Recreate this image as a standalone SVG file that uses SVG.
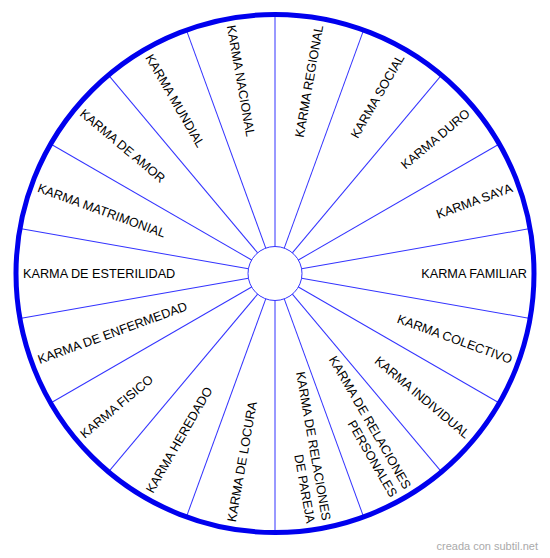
<svg xmlns="http://www.w3.org/2000/svg" width="550" height="558" viewBox="0 0 550 558">
<style>
.spoke{stroke:#3333ff;stroke-width:1}
.lbl{font-family:"Liberation Sans",Arial,sans-serif;font-size:12.7px;fill:#000}
.r{text-anchor:end}
.l{text-anchor:start}
.wm{font-family:"Liberation Sans",Arial,sans-serif;font-size:11px;fill:#aaaaaa;text-anchor:end}
</style>
<rect width="550" height="558" fill="#ffffff"/>
<g id="connectors" transform="translate(275,273.5)">
<line class="spoke" x1="0" y1="-27" x2="0" y2="-259" transform="rotate(0)"/>
<line class="spoke" x1="0" y1="-27" x2="0" y2="-259" transform="rotate(20)"/>
<line class="spoke" x1="0" y1="-27" x2="0" y2="-259" transform="rotate(40)"/>
<line class="spoke" x1="0" y1="-27" x2="0" y2="-259" transform="rotate(60)"/>
<line class="spoke" x1="0" y1="-27" x2="0" y2="-259" transform="rotate(80)"/>
<line class="spoke" x1="0" y1="-27" x2="0" y2="-259" transform="rotate(100)"/>
<line class="spoke" x1="0" y1="-27" x2="0" y2="-259" transform="rotate(120)"/>
<line class="spoke" x1="0" y1="-27" x2="0" y2="-259" transform="rotate(140)"/>
<line class="spoke" x1="0" y1="-27" x2="0" y2="-259" transform="rotate(160)"/>
<line class="spoke" x1="0" y1="-27" x2="0" y2="-259" transform="rotate(180)"/>
<line class="spoke" x1="0" y1="-27" x2="0" y2="-259" transform="rotate(200)"/>
<line class="spoke" x1="0" y1="-27" x2="0" y2="-259" transform="rotate(220)"/>
<line class="spoke" x1="0" y1="-27" x2="0" y2="-259" transform="rotate(240)"/>
<line class="spoke" x1="0" y1="-27" x2="0" y2="-259" transform="rotate(260)"/>
<line class="spoke" x1="0" y1="-27" x2="0" y2="-259" transform="rotate(280)"/>
<line class="spoke" x1="0" y1="-27" x2="0" y2="-259" transform="rotate(300)"/>
<line class="spoke" x1="0" y1="-27" x2="0" y2="-259" transform="rotate(320)"/>
<line class="spoke" x1="0" y1="-27" x2="0" y2="-259" transform="rotate(340)"/>
</g>
<g id="outer"><circle cx="275" cy="273.5" r="259" fill="none" stroke="#0000ee" stroke-width="5"/></g>
<g id="center"><circle cx="275" cy="273.5" r="27" fill="#ffffff" stroke="#3333ff" stroke-width="1"/></g>
<g id="labels" transform="translate(275,273.5)">
<g id="n-regional"><text class="lbl r" transform="rotate(-80)" x="252" y="4.5">KARMA REGIONAL</text></g>
<g id="n-social"><text class="lbl r" transform="rotate(-60)" x="252" y="4.5">KARMA SOCIAL</text></g>
<g id="n-duro"><text class="lbl r" transform="rotate(-40)" x="252" y="4.5">KARMA DURO</text></g>
<g id="n-saya"><text class="lbl r" transform="rotate(-20)" x="252" y="4.5">KARMA SAYA</text></g>
<g id="n-familiar"><text class="lbl r" transform="rotate(0)" x="252" y="4.5">KARMA FAMILIAR</text></g>
<g id="n-colectivo"><text class="lbl r" transform="rotate(20)" x="252" y="4.5">KARMA COLECTIVO</text></g>
<g id="n-individual"><text class="lbl r" transform="rotate(40)" x="252" y="4.5">KARMA INDIVIDUAL</text></g>
<g id="n-personales"><text class="lbl r" transform="rotate(60)"><tspan x="252" y="-3.5">KARMA DE RELACIONES</tspan><tspan x="252" y="12.5">PERSONALES</tspan></text></g>
<g id="n-pareja"><text class="lbl r" transform="rotate(80)"><tspan x="252" y="-3.5">KARMA DE RELACIONES</tspan><tspan x="252" y="12.5">DE PAREJA</tspan></text></g>
<g id="n-locura"><text class="lbl l" transform="rotate(-80)" x="-252" y="4.5">KARMA DE LOCURA</text></g>
<g id="n-heredado"><text class="lbl l" transform="rotate(-60)" x="-252" y="4.5">KARMA HEREDADO</text></g>
<g id="n-fisico"><text class="lbl l" transform="rotate(-40)" x="-252" y="4.5">KARMA FISICO</text></g>
<g id="n-enfermedad"><text class="lbl l" transform="rotate(-20)" x="-252" y="4.5">KARMA DE ENFERMEDAD</text></g>
<g id="n-esterilidad"><text class="lbl l" transform="rotate(0)" x="-252" y="4.5">KARMA DE ESTERILIDAD</text></g>
<g id="n-matrimonial"><text class="lbl l" transform="rotate(20)" x="-252" y="4.5">KARMA MATRIMONIAL</text></g>
<g id="n-amor"><text class="lbl l" transform="rotate(40)" x="-252" y="4.5">KARMA DE AMOR</text></g>
<g id="n-mundial"><text class="lbl l" transform="rotate(60)" x="-252" y="4.5">KARMA MUNDIAL</text></g>
<g id="n-nacional"><text class="lbl l" transform="rotate(80)" x="-252" y="4.5">KARMA NACIONAL</text></g>
</g>
<text class="wm" x="538" y="550">creada con subtil.net</text>
</svg>
